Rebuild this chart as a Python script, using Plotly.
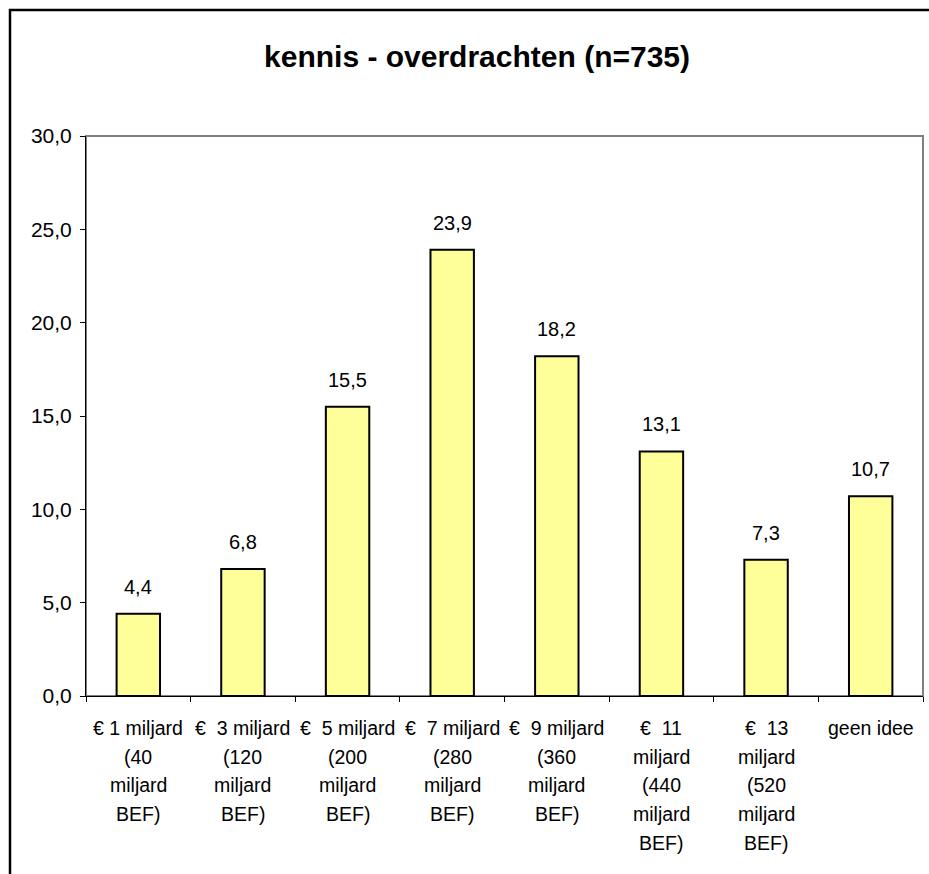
import plotly.graph_objects as go

categories = ["c1", "c3", "c5", "c7", "c9", "c11", "c13", "geen"]
label_lines = [
    ["€ 1 miljard", "(40", "miljard", "BEF)"],
    ["€  3 miljard", "(120", "miljard", "BEF)"],
    ["€  5 miljard", "(200", "miljard", "BEF)"],
    ["€  7 miljard", "(280", "miljard", "BEF)"],
    ["€  9 miljard", "(360", "miljard", "BEF)"],
    ["€  11", "miljard", "(440", "miljard", "BEF)"],
    ["€  13", "miljard", "(520", "miljard", "BEF)"],
    ["geen idee"],
]
percentages = [4.4, 6.8, 15.5, 23.9, 18.2, 13.1, 7.3, 10.7]
y_ticks = [0, 5, 10, 15, 20, 25, 30]

FONT = "Liberation Sans, Arial, sans-serif"

fig = go.Figure(
    go.Bar(
        x=categories,
        y=percentages,
        marker=dict(color="#FFFF99", line=dict(color="black", width=2)),
        hoverinfo="skip",
    )
)

annotations = []
# waardelabels boven de staven
for cat, val in zip(categories, percentages):
    annotations.append(dict(
        x=cat, y=val, xref="x", yref="y", text=f"{val:.1f}".replace(".", ","),
        showarrow=False, yanchor="bottom", yshift=14,
        font=dict(family=FONT, size=20, color="black"),
    ))
# categorielabels onder de as, met ruimere regelafstand
for cat, lines in zip(categories, label_lines):
    for i, line in enumerate(lines):
        annotations.append(dict(
            x=cat, y=0, xref="x", yref="y", text=line,
            showarrow=False, yanchor="top", yshift=-19 - 28.7 * i,
            font=dict(family=FONT, size=19.5, color="black"),
        ))

fig.update_layout(
    width=929,
    height=874,
    margin=dict(l=86, r=6, t=136, b=178),
    paper_bgcolor="white",
    plot_bgcolor="white",
    separators=",.",
    bargap=0.585,
    showlegend=False,
    title=dict(
        text="<b>kennis - overdrachten (n=735)</b>",
        x=0.5135, xanchor="center", y=0.935, yanchor="middle",
        font=dict(family=FONT, size=30, color="black"),
    ),
    annotations=annotations,
    shapes=[
        # grijze rand van het plotgebied
        dict(type="rect", xref="paper", yref="paper", x0=0, x1=1, y0=0, y1=1,
             line=dict(color="#808080", width=2), layer="below"),
        # zwarte kader rond de hele grafiek (loopt buiten beeld door)
        dict(type="rect", xref="paper", yref="paper",
             x0=-0.0908, x1=1.05, y0=-0.4, y1=1.225,
             line=dict(color="black", width=2.5)),
    ],
)

fig.update_xaxes(
    type="category",
    showticklabels=False,
    showline=True, linecolor="black", linewidth=1,
    ticks="outside", tickson="boundaries", ticklen=5, tickcolor="black",
    showgrid=False, zeroline=False,
)
fig.update_yaxes(
    range=[0, 30],
    tickvals=y_ticks,
    tickformat=".1f",
    showline=True, linecolor="black", linewidth=1,
    ticks="outside", ticklen=5, tickcolor="black",
    ticklabelstandoff=4,
    tickfont=dict(family=FONT, size=21, color="black"),
    showgrid=False, zeroline=False,
)

fig.write_html(
    "out.html",
    config={"displayModeBar": False},
    post_script="document.body.style.margin='0';document.body.style.overflow='hidden';",
)
